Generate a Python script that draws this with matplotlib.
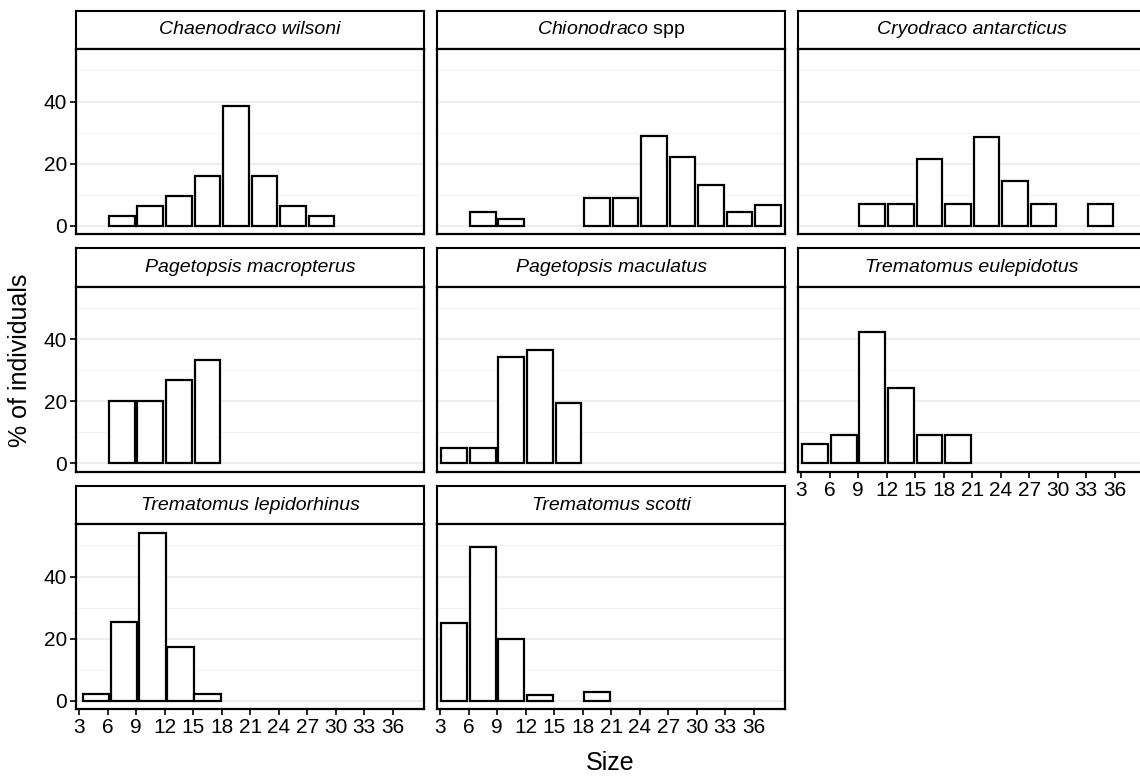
import matplotlib
matplotlib.use("Agg")
import matplotlib.pyplot as plt

plt.rcParams['font.family'] = ['Liberation Sans', 'DejaVu Sans']
plt.rcParams['mathtext.fontset'] = 'custom'
plt.rcParams['mathtext.it'] = 'Liberation Sans:italic'
plt.rcParams['mathtext.rm'] = 'Liberation Sans'

# species panels, in facet order
species = ['Chaenodraco wilsoni', 'Chionodraco spp', 'Cryodraco antarcticus',
           'Pagetopsis macropterus', 'Pagetopsis maculatus', 'Trematomus eulepidotus',
           'Trematomus lepidorhinus', 'Trematomus scotti']
strip_labels = ['Chaenodraco wilsoni', '$\\mathit{Chionodraco}$ spp', 'Cryodraco antarcticus',
                'Pagetopsis macropterus', 'Pagetopsis maculatus', 'Trematomus eulepidotus',
                'Trematomus lepidorhinus', 'Trematomus scotti']

# size class (bar centre) and % of individuals
chaenodraco_x = [7.5, 10.5, 13.5, 16.5, 19.5, 22.5, 25.5, 28.5]
chaenodraco_pct = [3.2, 6.5, 9.7, 16.1, 38.7, 16.1, 6.5, 3.2]
chionodraco_x = [7.5, 10.5, 19.5, 22.5, 25.5, 28.5, 31.5, 34.5, 37.5]
chionodraco_pct = [4.4, 2.2, 8.9, 8.9, 28.9, 22.2, 13.3, 4.4, 6.7]
cryodraco_x = [10.5, 13.5, 16.5, 19.5, 22.5, 25.5, 28.5, 34.5]
cryodraco_pct = [7.1, 7.1, 21.4, 7.1, 28.6, 14.3, 7.1, 7.1]
macropterus_x = [7.5, 10.5, 13.5, 16.5]
macropterus_pct = [20.0, 20.0, 26.7, 33.3]
maculatus_x = [4.5, 7.5, 10.5, 13.5, 16.5]
maculatus_pct = [4.9, 4.9, 34.1, 36.6, 19.5]
eulepidotus_x = [4.5, 7.5, 10.5, 13.5, 16.5, 19.5]
eulepidotus_pct = [6.1, 9.1, 42.4, 24.2, 9.1, 9.1]
lepidorhinus_x = [4.8, 7.75, 10.75, 13.65, 16.5]
lepidorhinus_pct = [2.1, 25.4, 54.1, 17.3, 2.1]
scotti_x = [4.5, 7.5, 10.5, 13.5, 19.5]
scotti_pct = [25.2, 49.6, 20.0, 1.9, 3.0]

xs = [chaenodraco_x, chionodraco_x, cryodraco_x, macropterus_x, maculatus_x,
      eulepidotus_x, lepidorhinus_x, scotti_x]
ys = [chaenodraco_pct, chionodraco_pct, cryodraco_pct, macropterus_pct, maculatus_pct,
      eulepidotus_pct, lepidorhinus_pct, scotti_pct]
widths = [2.7, 2.7, 2.7, 2.7, 2.7, 2.7, 2.8, 2.7]

x_ticks = [3, 6, 9, 12, 15, 18, 21, 24, 27, 30, 33, 36]
y_ticks = [0, 20, 40]

W, H = 1140, 777
fig = plt.figure(figsize=(W / 100, H / 100), dpi=100)

col_left = [76, 437, 798]
pw = 348
row_top = [10.7, 248.2, 485.7]   # strip tops in pixels
sh = 38.6
ph = 185.0

def px_rect(x0, y0, w, h):
    return [x0 / W, 1 - (y0 + h) / H, w / W, h / H]

for i, name in enumerate(species):
    r, c = divmod(i, 3)
    # strip
    sax = fig.add_axes(px_rect(col_left[c], row_top[r], pw, sh))
    sax.set_xticks([]); sax.set_yticks([])
    for s in sax.spines.values():
        s.set_linewidth(1.5)
    style = 'normal' if '$' in strip_labels[i] else 'italic'
    sax.text(0.5, 0.5, strip_labels[i], ha='center', va='center', fontsize=14,
             style=style, transform=sax.transAxes)

    ax = fig.add_axes(px_rect(col_left[c], row_top[r] + sh, pw, ph))
    for y in [0, 20, 40]:
        ax.axhline(y, color='#EBEBEB', lw=1.2, zorder=0)
    for y in [10, 30, 50]:
        ax.axhline(y, color='#F2F2F2', lw=0.7, zorder=0)
    ax.bar(xs[i], ys[i], width=widths[i], color='white', edgecolor='black',
           linewidth=1.6, zorder=2)
    ax.set_xlim(2.68, 39.3)
    ax.set_ylim(-2.7, 56.8)
    for s in ax.spines.values():
        s.set_linewidth(1.6)
    ax.set_xticks(x_ticks)
    ax.set_yticks(y_ticks)
    ax.tick_params(length=4, width=1.2, labelsize=15, colors='black', pad=2.5)
    if c != 0:
        ax.tick_params(axis='y', left=False, labelleft=False)
    # x axis only where no panel below
    if not (r == 2 or (r == 1 and c == 2)):
        ax.tick_params(axis='x', bottom=False, labelbottom=False)

fig.text(610 / W, 1 - 763 / H, 'Size', ha='center', va='center', fontsize=18)
fig.text(20 / W, 1 - 360 / H, '% of individuals', ha='center', va='center',
         rotation=90, fontsize=18)

fig.savefig('out.png', dpi=100)
